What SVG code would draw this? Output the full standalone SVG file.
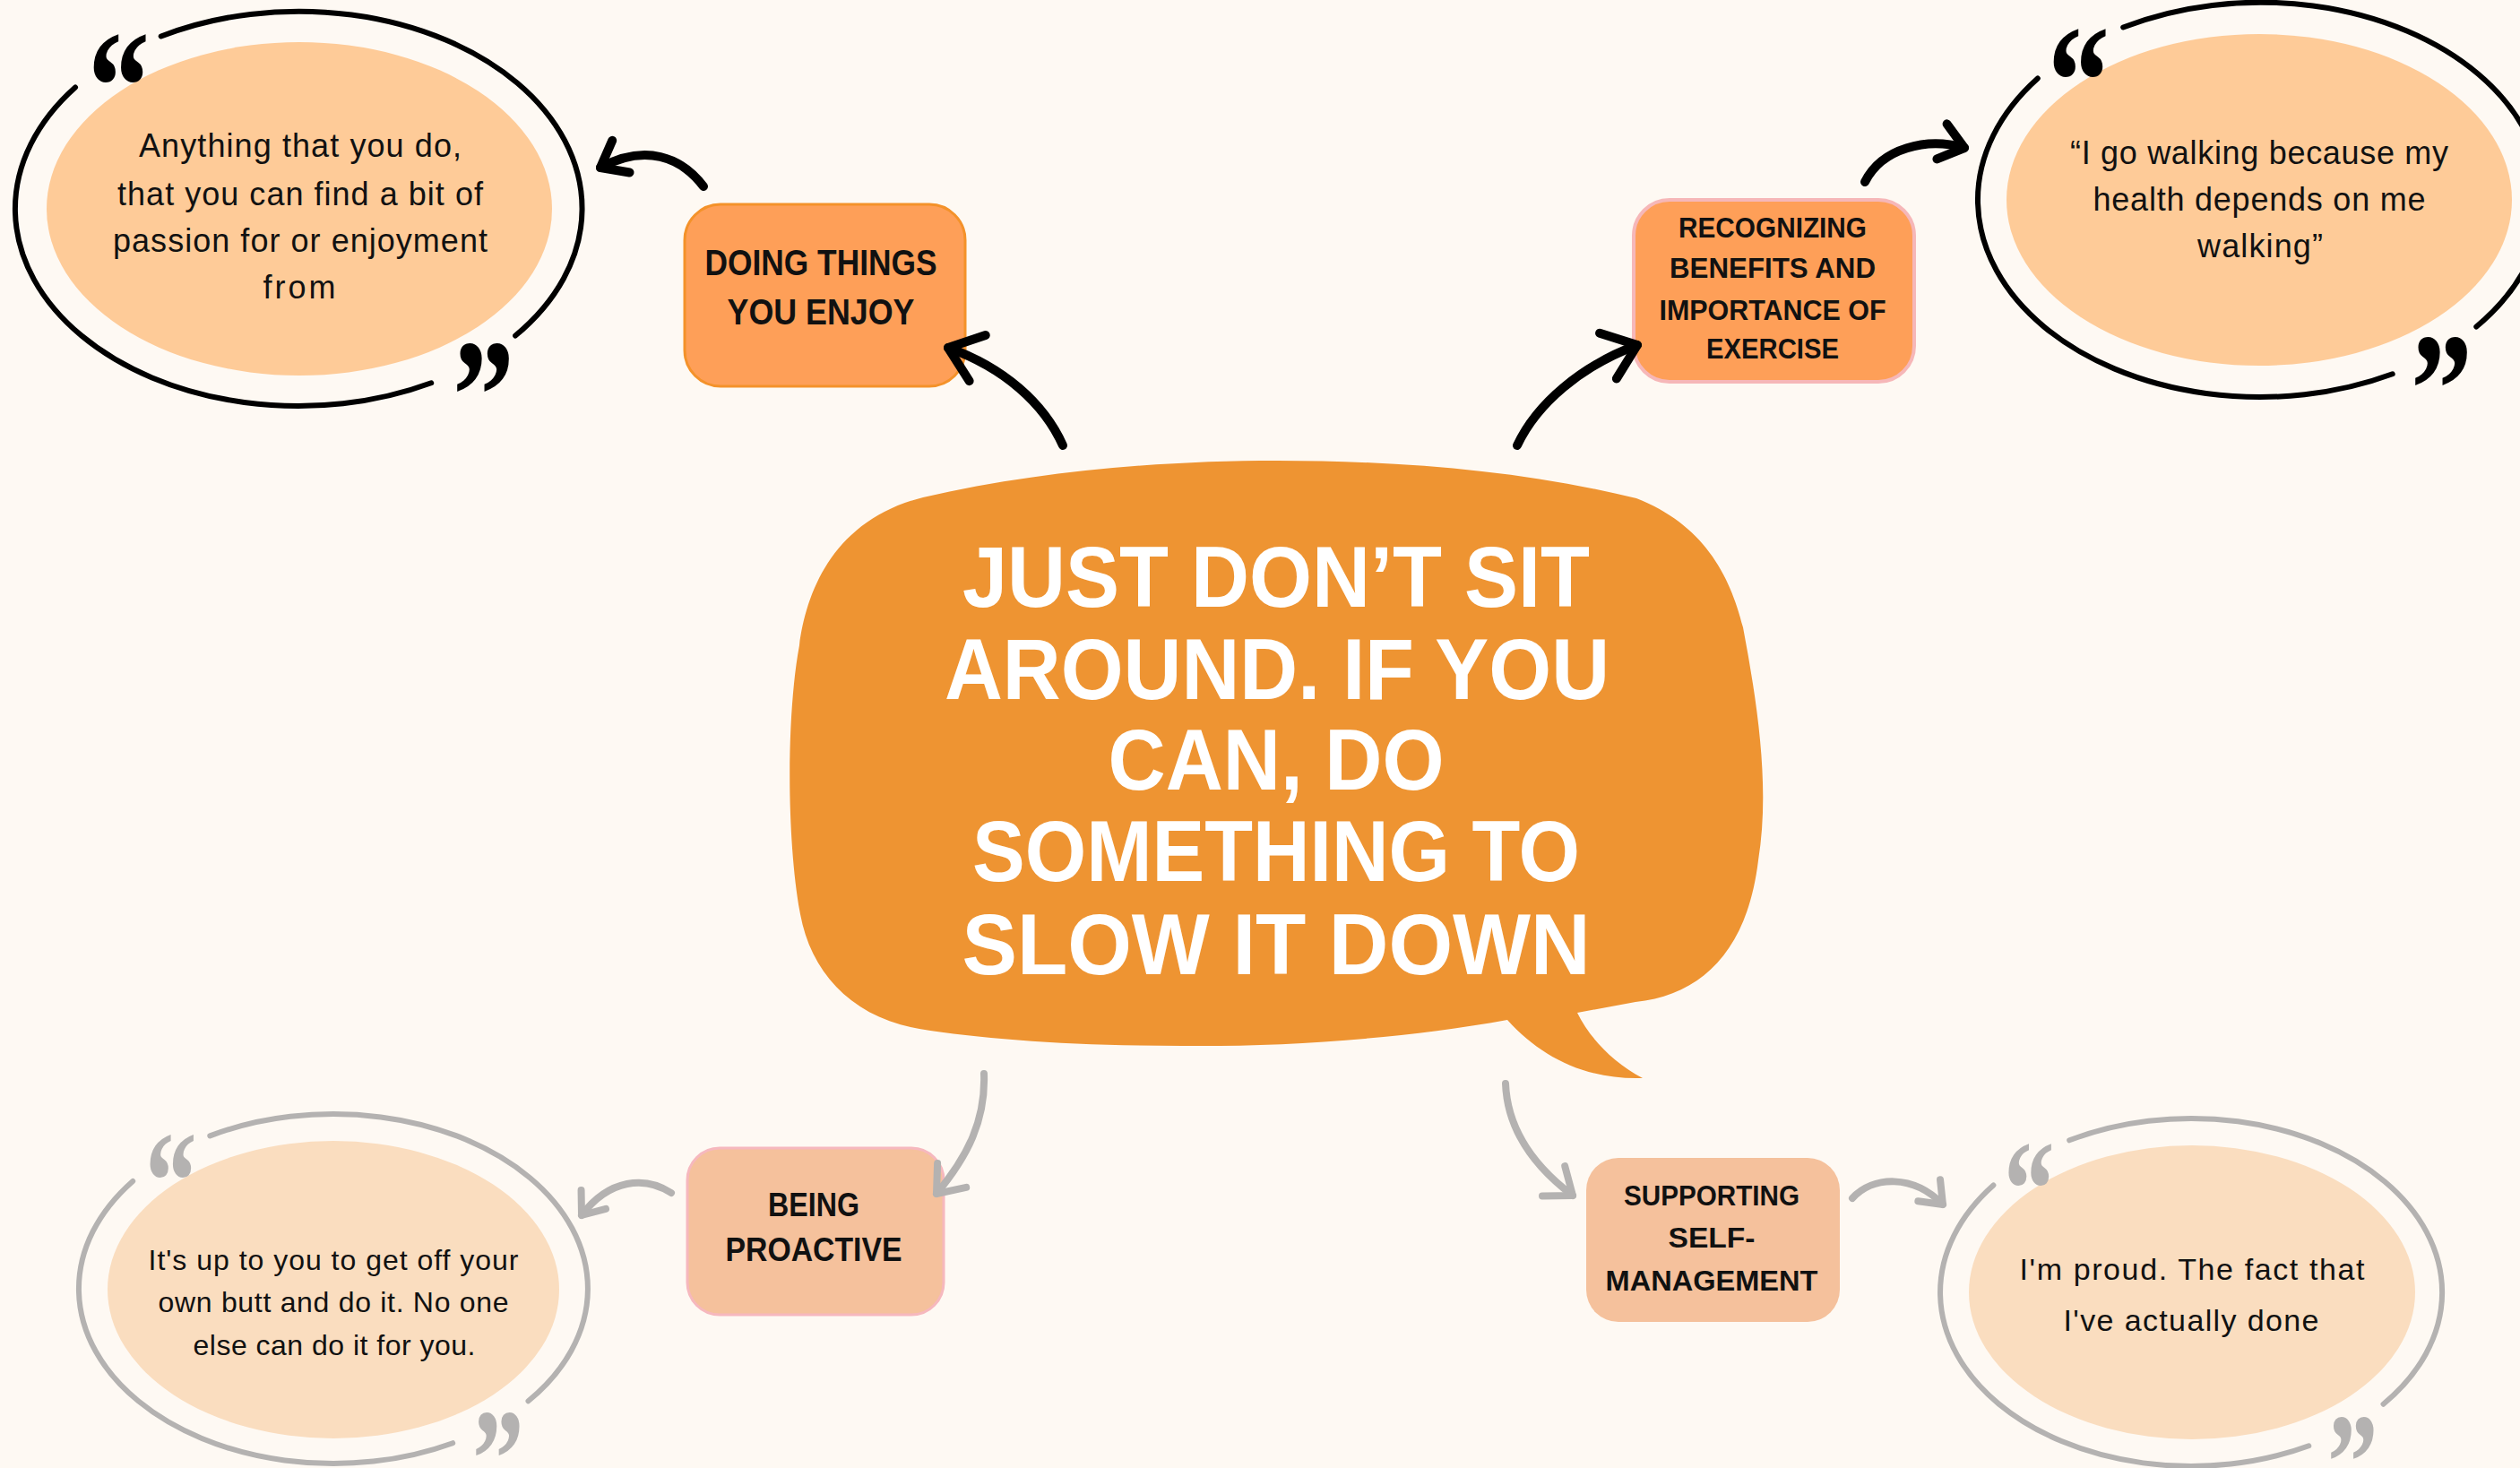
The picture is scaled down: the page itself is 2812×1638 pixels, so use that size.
<svg xmlns="http://www.w3.org/2000/svg" width="2812" height="1638" viewBox="0 0 2812 1638">
<style>
.bg{fill:#FEF9F3}
.ringB{fill:none;stroke:#000;stroke-width:6;stroke-linecap:round}
.ringG{fill:none;stroke:#B4B2B1;stroke-width:6;stroke-linecap:round}
.fillT{fill:#FECB98}
.fillB{fill:#FADDBF}
.qmB{font-family:"Liberation Serif",serif;font-weight:700;fill:#000}
.qmG{font-family:"Liberation Serif",serif;font-weight:700;fill:#B4B2B1}
.qt{font-family:"Liberation Sans",Arial,sans-serif;fill:#111;text-anchor:middle}
.lbl{font-family:"Liberation Sans",Arial,sans-serif;font-weight:700;fill:#111;text-anchor:middle}
.boxO{fill:#FE9F58}
.boxP{fill:#F5C19C}
.ctr{font-family:"Liberation Sans",Arial,sans-serif;font-weight:700;fill:#FFF;text-anchor:middle;font-size:96px}
.conB{fill:none;stroke:#000;stroke-width:10;stroke-linecap:round}
.conG{fill:none;stroke:#B4B2B1;stroke-width:8;stroke-linecap:round}
</style>
<defs>
<marker id="ahBL" markerUnits="userSpaceOnUse" markerWidth="80" markerHeight="80" refX="0" refY="0" orient="auto" overflow="visible">
<path d="M-34.7,-27.1 L0,0 L-34.7,27.1" fill="none" stroke="#000" stroke-width="10" stroke-linecap="round" stroke-linejoin="round"/>
</marker>
<marker id="ahBS" markerUnits="userSpaceOnUse" markerWidth="80" markerHeight="80" refX="0" refY="0" orient="auto" overflow="visible">
<path d="M-26,-20.3 L0,0 L-26,20.3" fill="none" stroke="#000" stroke-width="10" stroke-linecap="round" stroke-linejoin="round"/>
</marker>
<marker id="ahGL" markerUnits="userSpaceOnUse" markerWidth="80" markerHeight="80" refX="0" refY="0" orient="auto" overflow="visible">
<path d="M-26.8,-20.9 L0,0 L-26.8,20.9" fill="none" stroke="#B4B2B1" stroke-width="8" stroke-linecap="round" stroke-linejoin="round"/>
</marker>
<marker id="ahGS" markerUnits="userSpaceOnUse" markerWidth="80" markerHeight="80" refX="0" refY="0" orient="auto" overflow="visible">
<path d="M-22,-17.2 L0,0 L-22,17.2" fill="none" stroke="#B4B2B1" stroke-width="8" stroke-linecap="round" stroke-linejoin="round"/>
</marker>
</defs>
<rect class="bg" x="0" y="0" width="2812" height="1638"/>

<g id="center-bubble">
<path fill="#EE9432" d="M1030,555 C1160,525 1300,514 1425,514 C1560,514 1700,525 1826,556 C1900,585 1930,640 1945,700 C1962,790 1975,880 1962,960 C1950,1060 1900,1110 1825,1118 L1760,1130 C1775,1160 1800,1185 1833,1203 C1770,1205 1720,1180 1682,1138 C1560,1160 1430,1168 1320,1167 C1200,1167 1100,1160 1026,1148 C950,1135 905,1085 893,1020 C878,940 877,800 892,720 C900,660 930,580 1030,555 Z"/>
<text class="ctr" x="1424" y="677" textLength="700" lengthAdjust="spacingAndGlyphs">JUST DON’T SIT</text>
<text class="ctr" x="1425" y="780" textLength="742" lengthAdjust="spacingAndGlyphs">AROUND. IF YOU</text>
<text class="ctr" x="1424" y="881" textLength="375" lengthAdjust="spacingAndGlyphs">CAN, DO</text>
<text class="ctr" x="1424" y="983" textLength="678" lengthAdjust="spacingAndGlyphs">SOMETHING TO</text>
<text class="ctr" x="1424" y="1087" textLength="701" lengthAdjust="spacingAndGlyphs">SLOW IT DOWN</text>
</g>

<g id="node-doing">
<rect class="boxO" x="764" y="228" width="313" height="203" rx="40" stroke="#F4922A" stroke-width="3"/>
<text class="lbl" x="916" y="307" font-size="40" textLength="259" lengthAdjust="spacingAndGlyphs">DOING THINGS</text>
<text class="lbl" x="916" y="362" font-size="40" textLength="209" lengthAdjust="spacingAndGlyphs">YOU ENJOY</text>
</g>

<g id="node-recognizing">
<rect class="boxO" x="1823" y="223" width="313" height="203" rx="40" stroke="#F6B7B8" stroke-width="4"/>
<text class="lbl" x="1978" y="265" font-size="32" textLength="210" lengthAdjust="spacingAndGlyphs">RECOGNIZING</text>
<text class="lbl" x="1978" y="310" font-size="32" textLength="230" lengthAdjust="spacingAndGlyphs">BENEFITS AND</text>
<text class="lbl" x="1978" y="357" font-size="32" textLength="253" lengthAdjust="spacingAndGlyphs">IMPORTANCE OF</text>
<text class="lbl" x="1978" y="400" font-size="32" textLength="148" lengthAdjust="spacingAndGlyphs">EXERCISE</text>
</g>

<g id="node-proactive">
<rect class="boxP" x="767" y="1281" width="286" height="186" rx="36" stroke="#F6B8BE" stroke-width="3"/>
<text class="lbl" x="908" y="1357" font-size="37" textLength="102" lengthAdjust="spacingAndGlyphs">BEING</text>
<text class="lbl" x="908" y="1407" font-size="37" textLength="197" lengthAdjust="spacingAndGlyphs">PROACTIVE</text>
</g>

<g id="node-selfmanagement">
<rect class="boxP" x="1770" y="1292" width="283" height="183" rx="36"/>
<text class="lbl" x="1910" y="1345" font-size="32" textLength="196" lengthAdjust="spacingAndGlyphs">SUPPORTING</text>
<text class="lbl" x="1910" y="1392" font-size="32" textLength="97" lengthAdjust="spacingAndGlyphs">SELF-</text>
<text class="lbl" x="1910" y="1440" font-size="32" textLength="237" lengthAdjust="spacingAndGlyphs">MANAGEMENT</text>
</g>

<g id="quote-enjoy">
<ellipse class="fillT" cx="334" cy="233" rx="282" ry="186"/>
<path class="ringB" d="M481.2,427.3 A316,220 0 0 1 84,97.5 M179.7,40.5 A316,220 0 0 1 575.1,374.5"/>
<text class="qmB" font-size="177" transform="translate(98,157) scale(0.78,1)">“</text>
<text class="qmB" font-size="177" transform="translate(505,502) scale(0.78,1)">”</text>
<text class="qt" font-size="36" x="335" y="175" textLength="360" lengthAdjust="spacing">Anything that you do,</text>
<text class="qt" font-size="36" x="335" y="229" textLength="408" lengthAdjust="spacing">that you can find a bit of</text>
<text class="qt" font-size="36" x="335" y="281" textLength="418" lengthAdjust="spacing">passion for or enjoyment</text>
<text class="qt" font-size="36" x="334" y="333" textLength="81" lengthAdjust="spacing">from</text>
</g>

<g id="quote-walking">
<ellipse class="fillT" cx="2521" cy="223" rx="282" ry="185"/>
<path class="ringB" d="M2669.7,417.3 A315,220 0 0 1 2273.8,87.5 M2369.2,30.5 A315,220 0 0 1 2763.3,364.5"/>
<text class="qmB" font-size="177" transform="translate(2285,151) scale(0.78,1)">“</text>
<text class="qmB" font-size="177" transform="translate(2690,495) scale(0.78,1)">”</text>
<text class="qt" font-size="36" x="2521" y="183" textLength="422" lengthAdjust="spacing">“I go walking because my</text>
<text class="qt" font-size="36" x="2521" y="235" textLength="371" lengthAdjust="spacing">health depends on me</text>
<text class="qt" font-size="36" x="2522" y="287" textLength="140" lengthAdjust="spacing">walking”</text>
</g>

<g id="quote-proactive">
<ellipse class="fillB" cx="372" cy="1439" rx="252" ry="166"/>
<path class="ringG" d="M505.2,1610.2 A284,195 0 0 1 148.2,1317.9 M234.3,1267.4 A284,195 0 0 1 589.5,1563.3"/>
<text class="qmG" font-size="158" transform="translate(162,1372) scale(0.73,1)">“</text>
<text class="qmG" font-size="158" transform="translate(527,1682) scale(0.73,1)">”</text>
<text class="qt" font-size="32" x="372" y="1417" textLength="413" lengthAdjust="spacing">It's up to you to get off your</text>
<text class="qt" font-size="32" x="372" y="1464" textLength="391" lengthAdjust="spacing">own butt and do it. No one</text>
<text class="qt" font-size="32" x="373" y="1512" textLength="315" lengthAdjust="spacing">else can do it for you.</text>
</g>

<g id="quote-proud">
<ellipse class="fillB" cx="2446" cy="1442" rx="249" ry="164"/>
<path class="ringG" d="M2576.3,1613.3 A280,194 0 0 1 2224.4,1322.5 M2309.2,1272.3 A280,194 0 0 1 2659.5,1566.7"/>
<text class="qmG" font-size="155" transform="translate(2236,1379) scale(0.73,1)">“</text>
<text class="qmG" font-size="155" transform="translate(2597,1684) scale(0.73,1)">”</text>
<text class="qt" font-size="34" x="2446" y="1428" textLength="385" lengthAdjust="spacing">I'm proud. The fact that</text>
<text class="qt" font-size="34" x="2445" y="1485" textLength="285" lengthAdjust="spacing">I've actually done</text>
</g>

<g id="connectors">
<path class="conB" d="M1186,497 C1165,450 1120,410 1058,388" marker-end="url(#ahBL)"/>
<path class="conB" d="M785,208 C760,175 720,160 670,187" marker-end="url(#ahBS)"/>
<path class="conB" d="M1693,497 C1715,450 1765,408 1827,385" marker-end="url(#ahBL)"/>
<path class="conB" d="M2081,203 C2100,165 2150,153 2192,165" marker-end="url(#ahBS)"/>
<path class="conG" d="M1098,1198 C1100,1250 1080,1290 1045,1332" marker-end="url(#ahGL)"/>
<path class="conG" d="M749,1331 C720,1312 680,1315 649,1356" marker-end="url(#ahGS)"/>
<path class="conG" d="M1680,1209 C1682,1260 1710,1300 1755,1334" marker-end="url(#ahGL)"/>
<path class="conG" d="M2067,1337 C2090,1312 2135,1310 2168,1344" marker-end="url(#ahGS)"/>
</g>
</svg>
